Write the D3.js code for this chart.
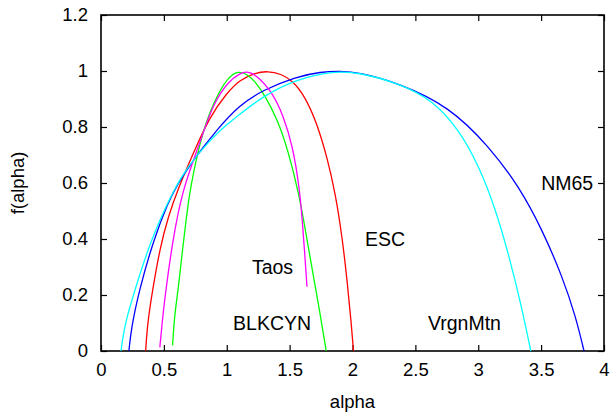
<!DOCTYPE HTML>
<html lang="en">
<head>
	<meta charset="UTF-8">
	<title>f(alpha) spectra</title>
	<style>
		body { margin: 0; background: #fff; }
		text { font-family: "Liberation Sans", Arial, sans-serif; }
	</style>
</head>
<body>
<script src="https://cdnjs.cloudflare.com/ajax/libs/d3/7.8.5/d3.min.js"></script>
<script type="text/javascript">
  // values, [alpha, f(alpha)]
  var esc = [[0.355,0.0],[0.37,0.1],[0.41,0.218],[0.47,0.37],[0.535,0.48],[0.609,0.575],[0.733,0.706],
             [0.865,0.837],[0.998,0.92],[1.103,0.968],[1.22,0.993],[1.328,1.0],[1.43,0.99],[1.526,0.965],
             [1.62,0.91],[1.712,0.82],[1.80,0.69],[1.865,0.56],[1.92,0.40],[1.96,0.24],[1.99,0.10],[2.008,0.0]];
  var blkcyn = [[0.569,0.02],[0.585,0.13],[0.614,0.218],[0.65,0.37],[0.68,0.48],[0.706,0.575],[0.812,0.801],
                [0.944,0.932],[1.02,0.98],[1.09,1.0],[1.16,0.99],[1.23,0.96],[1.30,0.915],[1.40,0.83],
                [1.487,0.718],[1.575,0.56],[1.63,0.42],[1.685,0.277],[1.74,0.14],[1.791,0.0]];
  var nm65 = [[0.222,0.0],[0.24,0.08],[0.304,0.218],[0.42,0.40],[0.534,0.53],[0.60,0.59],[0.733,0.682],
              [0.918,0.789],[1.103,0.879],[1.288,0.932],[1.553,0.98],[1.75,0.997],[1.9,1.0],[2.05,0.995],
              [2.373,0.956],[2.77,0.873],[3.087,0.73],[3.325,0.587],[3.51,0.432],[3.669,0.265],
              [3.775,0.123],[3.841,0.0]];
  var taos = [[0.468,0.013],[0.49,0.12],[0.516,0.218],[0.565,0.38],[0.645,0.575],[0.786,0.742],
              [0.891,0.885],[1.024,0.968],[1.103,0.99],[1.156,1.0],[1.24,0.985],[1.368,0.92],[1.45,0.84],
              [1.526,0.73],[1.58,0.575],[1.60,0.47],[1.62,0.35],[1.638,0.23]];
  var vrgnmtn = [[0.159,0.0],[0.19,0.1],[0.27,0.218],[0.39,0.39],[0.574,0.575],[0.70,0.665],[0.85,0.745],
                 [1.0,0.81],[1.103,0.845],[1.288,0.91],[1.553,0.971],[1.85,1.0],[2.05,0.995],[2.373,0.956],
                 [2.637,0.896],[2.849,0.789],[3.008,0.658],[3.14,0.504],[3.246,0.337],[3.339,0.17],[3.418,0.0]];

  var names   = ['ESC', 'BLKCYN', 'NM65', 'Taos', 'VrgnMtn'];
  var colours = ['#ff0000', '#00ff00', '#0000ff', '#ff00ff', '#00ffff'];
  var series  = [esc, blkcyn, nm65, taos, vrgnmtn];
  // label anchors in data coordinates
  var labelPos = [[2.1,0.4],[1.05,0.1],[3.5,0.6],[1.2,0.3],[2.6,0.1]];

  var xTicks = [0, 0.5, 1, 1.5, 2, 2.5, 3, 3.5, 4];
  var yTicks = [0, 0.2, 0.4, 0.6, 0.8, 1, 1.2];

  var W = 611, H = 414,
      m = {left: 101, right: 7, top: 15, bottom: 63};

  var svg = d3.select('body').append('svg')
      .attr('width', W)
      .attr('height', H);

  var x = d3.scaleLinear().domain([0, 4]).range([m.left, W - m.right]),
      y = d3.scaleLinear().domain([0, 1.2]).range([H - m.bottom, m.top]);

  var tick = 6;
  var fmt = function(d) { return d3.format('')(d); };

  svg.append('g')
      .attr('transform', 'translate(0,' + y(0) + ')')
      .call(d3.axisBottom(x).tickValues(xTicks).tickSize(-tick).tickPadding(12).tickFormat(fmt));
  svg.append('g')
      .attr('transform', 'translate(0,' + y(1.2) + ')')
      .call(d3.axisTop(x).tickValues(xTicks).tickSize(-tick).tickFormat(''));
  svg.append('g')
      .attr('transform', 'translate(' + x(0) + ',0)')
      .call(d3.axisLeft(y).tickValues(yTicks).tickSize(-tick).tickPadding(13).tickFormat(fmt));
  svg.append('g')
      .attr('transform', 'translate(' + x(4) + ',0)')
      .call(d3.axisRight(y).tickValues(yTicks).tickSize(-tick).tickFormat(''));

  svg.selectAll('.domain').remove();
  svg.selectAll('.tick line').attr('stroke', '#000').attr('stroke-width', 1.2);
  svg.selectAll('.tick text').attr('font-size', '18.5px').attr('fill', '#000');

  svg.append('rect')
      .attr('x', x(0)).attr('y', y(1.2))
      .attr('width', x(4) - x(0)).attr('height', y(0) - y(1.2))
      .attr('fill', 'none').attr('stroke', '#000').attr('stroke-width', 1.6);

  var line = d3.line()
      .x(function(d) { return x(d[0]); })
      .y(function(d) { return y(d[1]); })
      .curve(d3.curveBasis);

  svg.selectAll('path.curve')
      .data(series)
    .enter().append('path')
      .attr('class', 'curve')
      .attr('d', line)
      .attr('fill', 'none')
      .attr('stroke', function(d, i) { return colours[i]; })
      .attr('stroke-width', 1.3);

  svg.selectAll('text.lbl')
      .data(names)
    .enter().append('text')
      .attr('class', 'lbl')
      .attr('x', function(d, i) { return x(labelPos[i][0]); })
      .attr('y', function(d, i) { return y(labelPos[i][1]); })
      .attr('dy', '0.36em')
      .attr('font-size', '19.5px')
      .text(function(d) { return d; });

  svg.append('text')
      .attr('x', (x(0) + x(4)) / 2)
      .attr('y', 408)
      .attr('text-anchor', 'middle')
      .attr('font-size', '18.5px')
      .text('alpha');

  svg.append('text')
      .attr('transform', 'translate(24,' + (y(0) + y(1.2)) / 2 + ') rotate(-90)')
      .attr('text-anchor', 'middle')
      .attr('font-size', '18.5px')
      .text('f(alpha)');
</script>
</body>
</html>
